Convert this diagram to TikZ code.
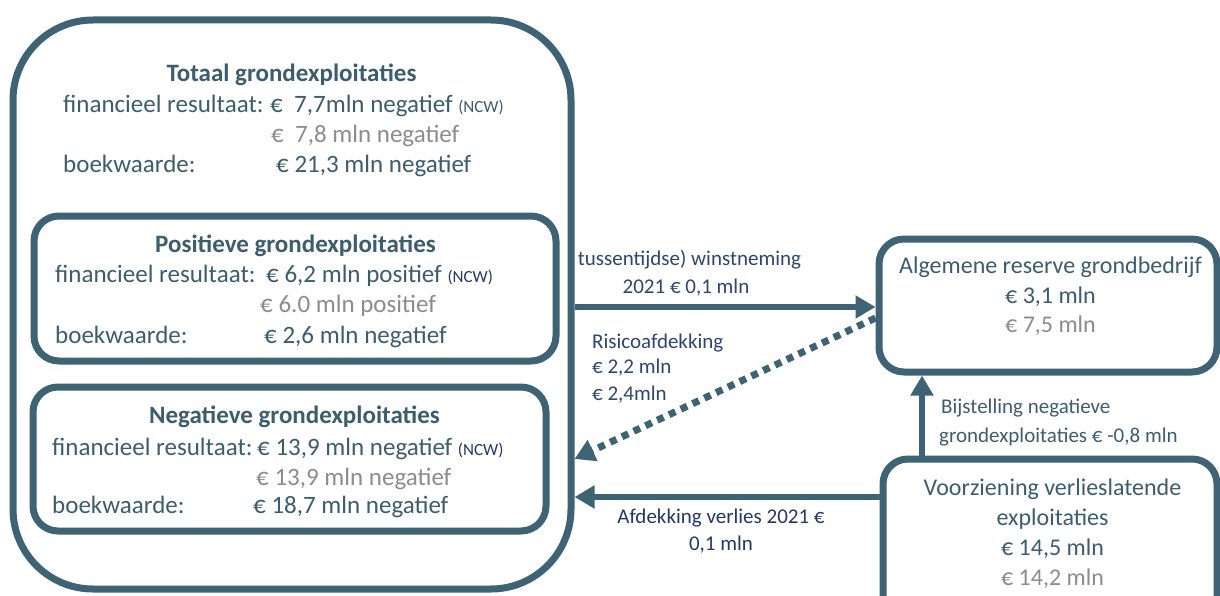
\documentclass[tikz,border=0pt]{standalone}
\usepackage{fontspec}
\setmainfont{Carlito}
\usetikzlibrary{arrows.meta}
\definecolor{edge}{HTML}{3D6375}
\definecolor{txt}{HTML}{3B5D6E}
\definecolor{navy}{HTML}{22386A}
\definecolor{labc}{HTML}{2C4670}
\definecolor{grey}{HTML}{8C8C8C}
\newcommand{\ncwsmall}[1]{{\fontsize{17}{20}\selectfont #1}}
\begin{document}
\begin{tikzpicture}[x=1pt,y=-1pt,
  box/.style={draw=edge, line width=7pt, rounded corners=25pt, inner sep=0pt, fill=white},
  lbl/.style={anchor=base west, inner sep=0pt, font=\fontsize{25}{30}\selectfont, text=txt},
  ctr/.style={anchor=base, inner sep=0pt, font=\fontsize{25}{30}\selectfont, text=txt},
  rctr/.style={anchor=base, inner sep=0pt, font=\fontsize{24}{29}\selectfont, text=txt},
  ttl/.style={anchor=base, inner sep=0pt, font=\fontsize{25}{30}\selectfont\bfseries, text=txt},
  alab/.style={inner sep=0pt, font=\fontsize{21}{26}\selectfont, text=labc},
  arr/.style={draw=edge, line width=6.5pt, -{Triangle[length=20pt,width=22pt]}},
  darr/.style={draw=edge, line width=7pt, dash pattern=on 7pt off 6pt, -{Triangle[length=20pt,width=22pt]}}
]
\useasboundingbox (0,0) rectangle (1220,596);
\clip (0,0) rectangle (1220,596);

% boxes
\node[box, rounded corners=80pt, minimum width=558pt, minimum height=569pt] (outer) at (292,304.5) {};
\node[box, minimum width=522pt, minimum height=145pt] (pos) at (295,288.5) {};
\node[box, minimum width=513pt, minimum height=144pt] (neg) at (289.5,459) {};
\node[box, minimum width=338pt, minimum height=133pt] (alg) at (1048,305.5) {};
\node[box, minimum width=334pt, minimum height=166pt] (voor) at (1050,542) {};

% totaal
\node[ttl] (tT) at (291.5,82) {Totaal grondexploitaties};
\node[lbl] (tF) at (63,113) {financieel resultaat:};
\node[lbl] (tFv) at (270,113) {€\ \ 7,7mln negatief \ncwsmall{(NCW)}};
\node[lbl, text=grey] (tG) at (271,143) {€\ \ 7,8 mln negatief};
\node[lbl] (tB) at (63,173) {boekwaarde:};
\node[lbl] (tBv) at (276,173) {€ 21,3 mln negatief};

% positief
\node[ttl] (pT) at (295.5,252) {Positieve grondexploitaties};
\node[lbl] (pF) at (55,282) {financieel resultaat:};
\node[lbl] (pFv) at (266,282) {€ 6,2 mln positief \textcolor{navy}{\ncwsmall{(NCW)}}};
\node[lbl, text=grey] (pG) at (260,312) {€ 6.0 mln positief};
\node[lbl] (pB) at (55,343) {boekwaarde:};
\node[lbl] (pBv) at (264,343) {€ 2,6 mln negatief};

% negatief
\node[ttl] (nT) at (294.5,423) {Negatieve grondexploitaties};
\node[lbl] (nF) at (52,455) {financieel resultaat:};
\node[lbl] (nFv) at (257,455) {€ 13,9 mln negatief \textcolor{navy}{\ncwsmall{(NCW)}}};
\node[lbl, text=grey] (nG) at (256,485) {€ 13,9 mln negatief};
\node[lbl] (nB) at (52,513) {boekwaarde:};
\node[lbl] (nBv) at (253,513) {€ 18,7 mln negatief};

% algemene reserve
\node[rctr] (a1) at (1050.5,273) {Algemene reserve grondbedrijf};
\node[rctr] (a2) at (1050.5,303) {€ 3,1 mln};
\node[rctr, text=grey] (a3) at (1050.5,332) {€ 7,5 mln};

% voorziening
\node[rctr] (v1) at (1052.5,495) {Voorziening verlieslatende};
\node[rctr] (v2) at (1052.5,525) {exploitaties};
\node[rctr] (v3) at (1052.5,555) {€ 14,5 mln};
\node[rctr, text=grey] (v4) at (1052.5,585) {€ 14,2 mln};

% arrows
\draw[arr] (outer.east |- 0,307) -- (alg.west |- 0,307);
\draw[darr] (alg.west |- 0,318) -- (outer.east |- 0,459);
\draw[arr] (voor.north -| 922,0) -- (alg.south -| 922,0);
\draw[arr] (voor.west |- 0,497) -- (outer.east |- 0,497);

% arrow labels
\node[alab, anchor=base] (w1) at (689.5,265) {tussentijdse) winstneming};
\node[alab, anchor=base] (w2) at (686,293) {2021 € 0,1 mln};
\node[alab, anchor=base west] (r1) at (592,348) {Risicoafdekking};
\node[alab, anchor=base west] (r2) at (592,373) {€ 2,2 mln};
\node[alab, anchor=base west] (r3) at (592,400) {€ 2,4mln};
\node[alab, anchor=base west, text=txt] (b1) at (941,413) {Bijstelling negatieve};
\node[alab, anchor=base west, text=txt] (b2) at (939,442) {grondexploitaties € -0,8 mln};
\node[alab, anchor=base, text=navy] (f1) at (721,523) {Afdekking verlies 2021 €};
\node[alab, anchor=base, text=navy] (f2) at (721,550) {0,1 mln};
\end{tikzpicture}
\end{document}
